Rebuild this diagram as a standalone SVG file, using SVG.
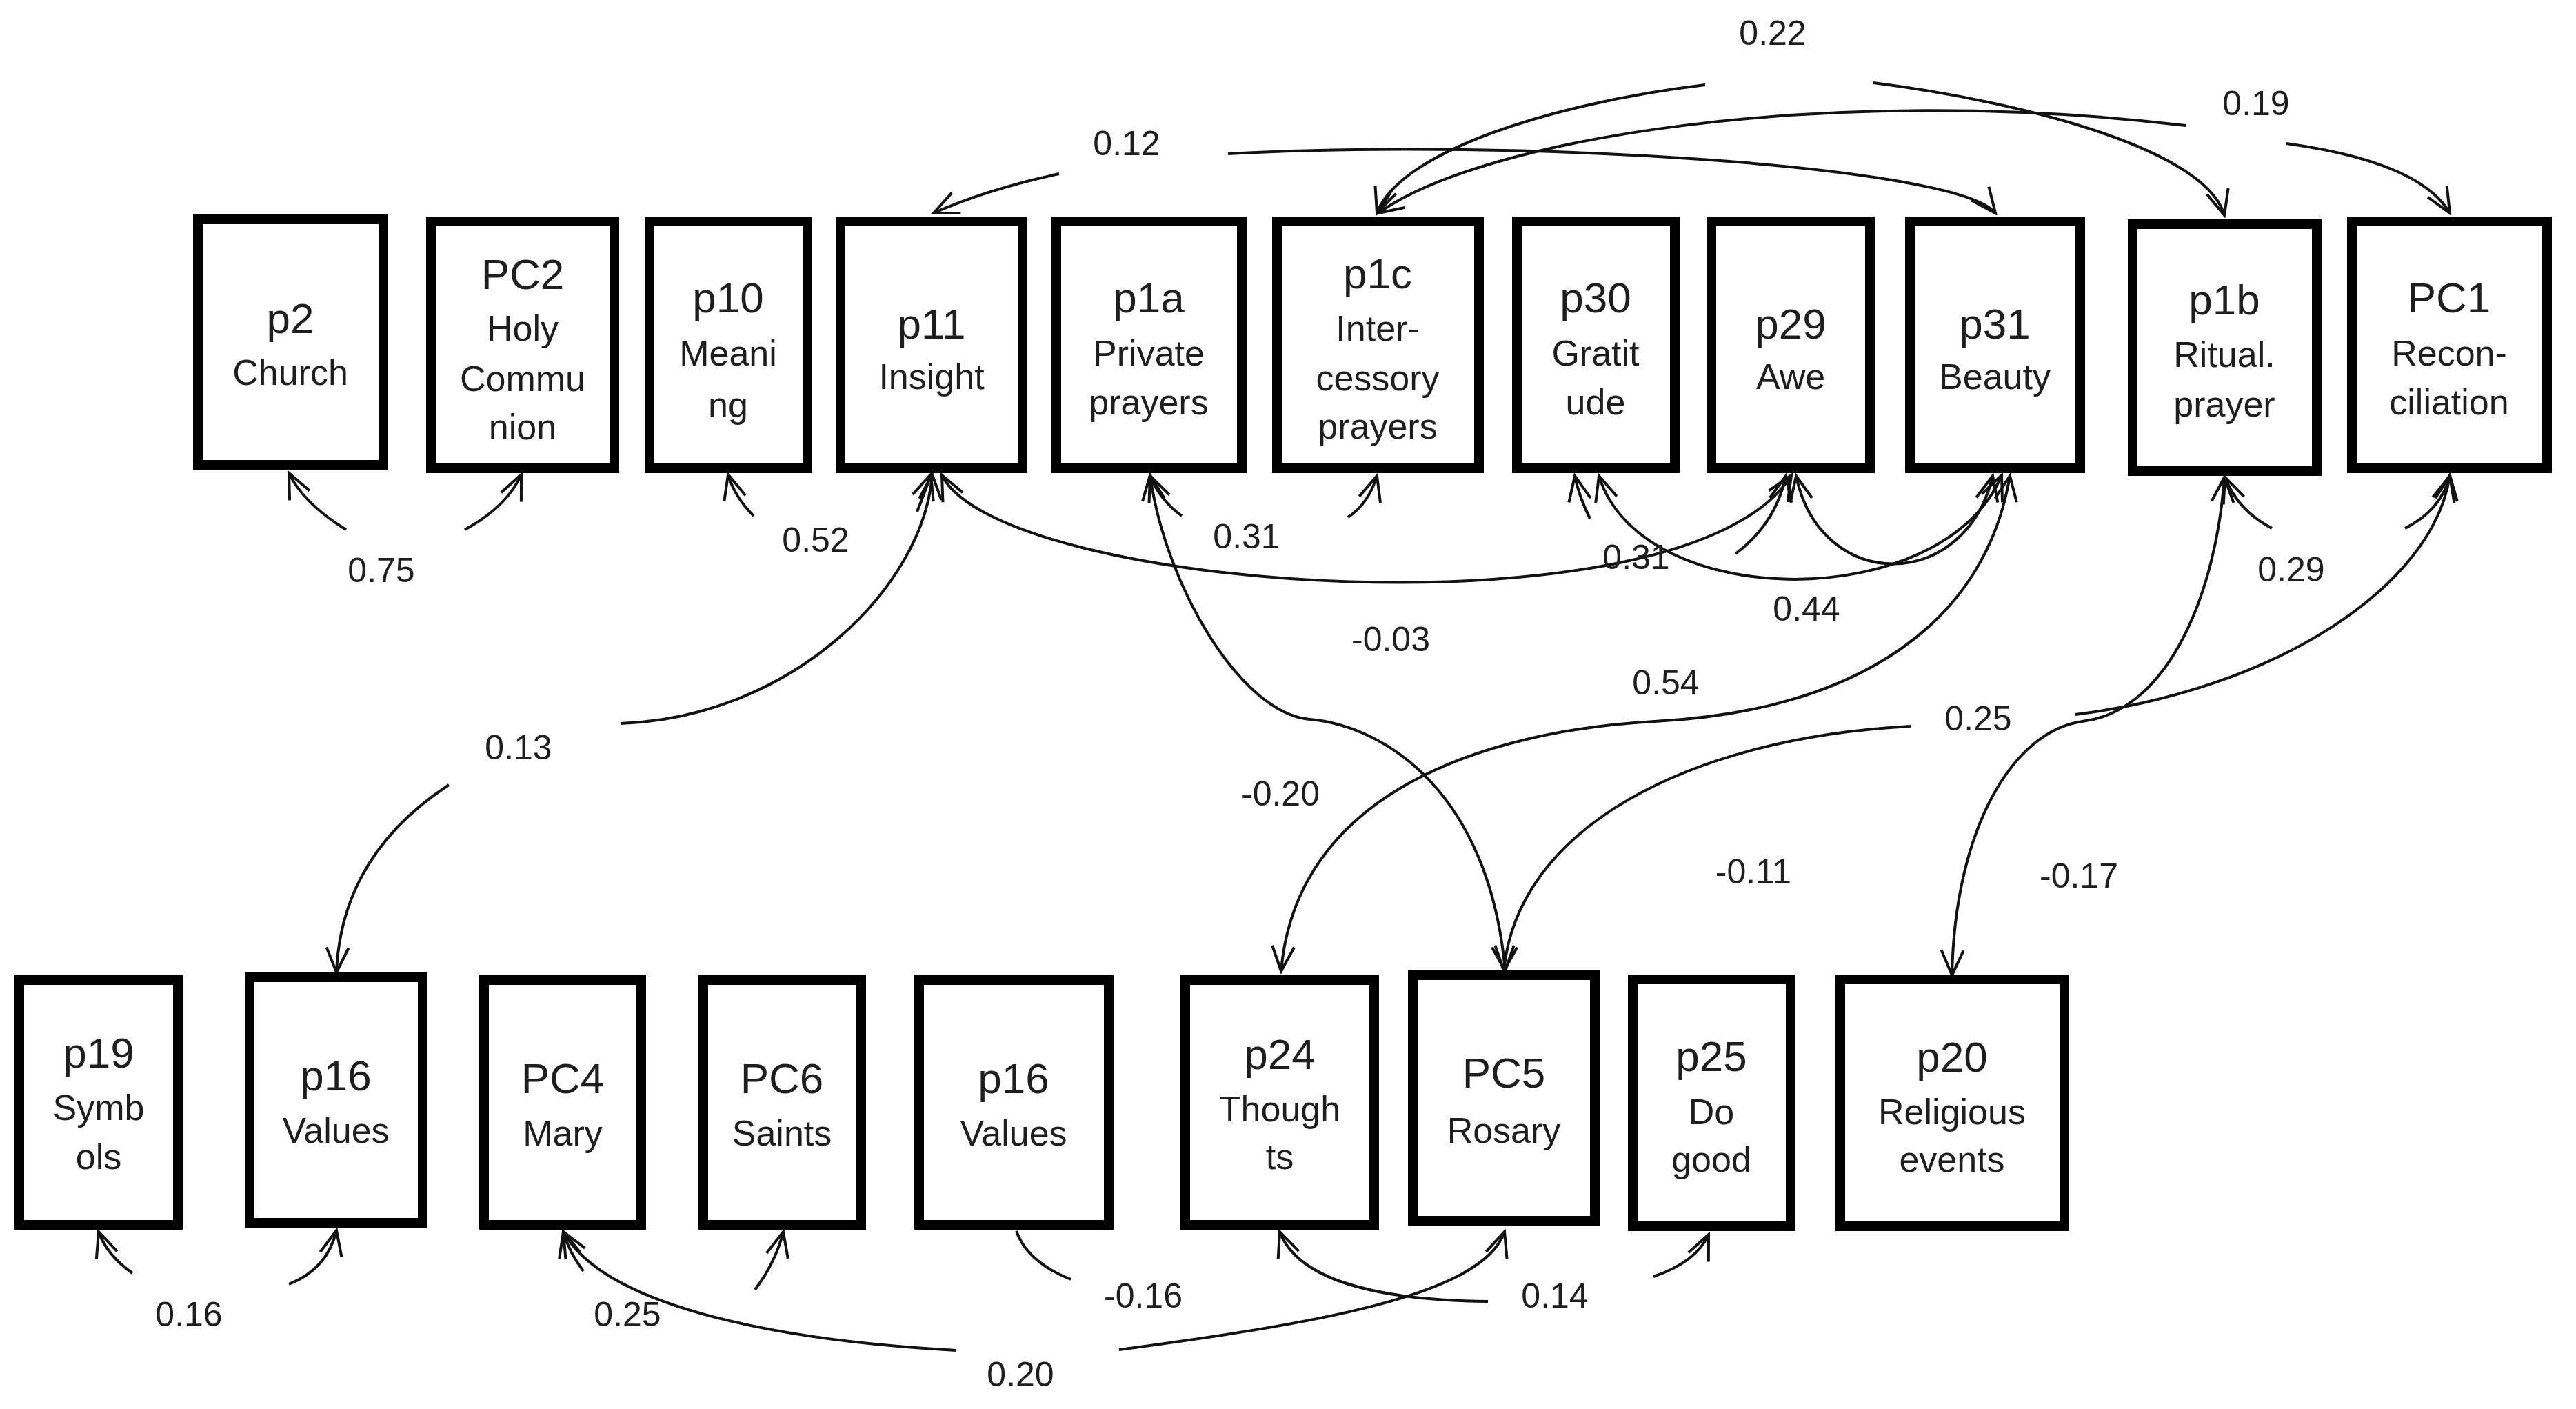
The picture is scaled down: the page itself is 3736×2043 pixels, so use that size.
<svg xmlns="http://www.w3.org/2000/svg" width="3736" height="2043" viewBox="0 0 3736 2043">
<defs>
<style>
.box{fill:#fff;stroke:#000;stroke-width:14}
.t{font-family:"Liberation Sans",Arial,sans-serif;font-size:62px;fill:#1e1e1e;text-anchor:middle}
.s{font-family:"Liberation Sans",Arial,sans-serif;font-size:52px;fill:#1e1e1e;text-anchor:middle}
.n{font-family:"Liberation Sans",Arial,sans-serif;font-size:50px;fill:#1e1e1e;text-anchor:middle}
.c{fill:none;stroke:#111;stroke-width:4}
.a2{marker-start:url(#ah);marker-end:url(#ah)}
.ae{marker-end:url(#ah)}
</style>
<marker id="ah" viewBox="-44 -22 48 44" refX="0" refY="0" markerWidth="48" markerHeight="44" markerUnits="userSpaceOnUse" orient="auto-start-reverse">
<path d="M-36,-16 L0,0 L-36,16" fill="none" stroke="#111" stroke-width="4"/>
</marker>
</defs>
<rect width="3736" height="2043" fill="#fff"/>

<g id="connectors">
<!-- top arcs -->
<path class="c ae" d="M1536,252 Q1430,275 1354,309"/>
<path class="c ae" d="M1781,223 C2200,200 2840,240 2894,309"/>
<path class="c ae" d="M2473,123 C2250,150 2030,220 1997,309"/>
<path class="c ae" d="M2717,120 C2950,150 3200,220 3226,312"/>
<path class="c" d="M1999,309 C2150,200 2650,120 3170,182" marker-start="url(#ah)"/>
<path class="c ae" d="M3316,208 Q3510,235 3553,309"/>
<!-- top-row bottom stubs -->
<path class="c ae" d="M502,768 Q440,730 419,686"/>
<path class="c ae" d="M674,768 Q735,735 756,688"/>
<path class="c ae" d="M1093,748 Q1065,720 1056,688"/>
<path class="c ae" d="M1330,742 Q1342,712 1350,688"/>
<path class="c ae" d="M1714,748 Q1682,725 1668,690"/>
<path class="c ae" d="M1955,750 Q1985,730 1997,690"/>
<path class="c ae" d="M2306,752 Q2290,720 2284,690"/>
<path class="c ae" d="M2517,803 Q2575,760 2590,690"/>
<path class="c ae" d="M3295,766 Q3245,740 3227,692"/>
<path class="c ae" d="M3488,766 Q3540,740 3553,690"/>
<!-- top-row long arcs -->
<path class="c a2" d="M1366,689 C1450,860 2450,930 2598,689"/>
<path class="c a2" d="M2319,690 C2380,890 2820,890 2903,689"/>
<path class="c a2" d="M2605,690 C2640,860 2850,860 2890,690"/>
<path class="c a2" d="M1668,689 C1690,850 1800,1035 1900,1043 C2010,1053 2160,1150 2183,1408"/>
<path class="c a2" d="M2915,690 C2880,900 2700,1030 2400,1046 C2150,1060 1880,1150 1858,1408"/>
<path class="c" d="M3553,689 C3530,850 3300,1000 3010,1036" marker-start="url(#ah)"/>
<path class="c ae" d="M2771,1053 C2450,1070 2200,1200 2181,1408"/>
<path class="c a2" d="M3226,692 C3215,850 3150,1030 3020,1046 C2920,1060 2835,1200 2831,1414"/>
<path class="c" d="M1352,688 C1340,850 1150,1040 900,1049" marker-start="url(#ah)"/>
<path class="c ae" d="M651,1138 Q495,1240 488,1410"/>
<!-- bottom-row stubs -->
<path class="c ae" d="M192,1846 Q155,1820 143,1786"/>
<path class="c ae" d="M419,1862 Q475,1840 488,1784"/>
<path class="c ae" d="M846,1843 Q825,1815 817,1786"/>
<path class="c ae" d="M1095,1870 Q1125,1830 1136,1786"/>
<path class="c" d="M1474,1785 Q1490,1830 1553,1855"/>
<path class="c ae" d="M2398,1851 Q2460,1830 2478,1790"/>
<!-- bottom-row arcs -->
<path class="c" d="M817,1786 C880,1900 1150,1945 1387,1958" marker-start="url(#ah)"/>
<path class="c ae" d="M1623,1957 C1900,1920 2150,1880 2182,1786"/>
<path class="c" d="M1856,1786 C1880,1850 1980,1885 2158,1887" marker-start="url(#ah)"/>
</g>

<g id="labels">
<text class="n" x="2571" y="65">0.22</text>
<text class="n" x="3272" y="167">0.19</text>
<text class="n" x="1634" y="225">0.12</text>
<text class="n" x="553" y="844">0.75</text>
<text class="n" x="1183" y="800">0.52</text>
<text class="n" x="1808" y="795">0.31</text>
<text class="n" x="2373" y="825">0.31</text>
<text class="n" x="2620" y="900">0.44</text>
<text class="n" x="3323" y="843">0.29</text>
<text class="n" x="2017" y="944">-0.03</text>
<text class="n" x="2416" y="1007">0.54</text>
<text class="n" x="2869" y="1059">0.25</text>
<text class="n" x="752" y="1101">0.13</text>
<text class="n" x="1857" y="1168">-0.20</text>
<text class="n" x="2543" y="1281">-0.11</text>
<text class="n" x="3015" y="1287">-0.17</text>
<text class="n" x="274" y="1923">0.16</text>
<text class="n" x="910" y="1923">0.25</text>
<text class="n" x="1658" y="1896">-0.16</text>
<text class="n" x="2255" y="1896">0.14</text>
<text class="n" x="1480" y="2010">0.20</text>
</g>

<g id="n-p2"><rect class="box" x="287" y="318" width="269" height="356"/><text class="t" x="421" y="483">p2</text><text class="s" x="421" y="558">Church</text></g>
<g id="n-PC2"><rect class="box" x="625" y="321" width="266" height="358"/><text class="t" x="758" y="419">PC2</text><text class="s" x="758" y="494">Holy</text><text class="s" x="758" y="567">Commu</text><text class="s" x="758" y="637">nion</text></g>
<g id="n-p10"><rect class="box" x="942" y="321" width="229" height="358"/><text class="t" x="1056" y="453">p10</text><text class="s" x="1056" y="530">Meani</text><text class="s" x="1056" y="605">ng</text></g>
<g id="n-p11"><rect class="box" x="1219" y="321" width="264" height="358"/><text class="t" x="1351" y="491">p11</text><text class="s" x="1351" y="564">Insight</text></g>
<g id="n-p1a"><rect class="box" x="1532" y="321" width="269" height="358"/><text class="t" x="1666" y="453">p1a</text><text class="s" x="1666" y="530">Private</text><text class="s" x="1666" y="601">prayers</text></g>
<g id="n-p1c"><rect class="box" x="1852" y="321" width="293" height="358"/><text class="t" x="1998" y="418">p1c</text><text class="s" x="1998" y="494">Inter-</text><text class="s" x="1998" y="566">cessory</text><text class="s" x="1998" y="636">prayers</text></g>
<g id="n-p30"><rect class="box" x="2200" y="321" width="229" height="358"/><text class="t" x="2314" y="453">p30</text><text class="s" x="2314" y="530">Gratit</text><text class="s" x="2314" y="601">ude</text></g>
<g id="n-p29"><rect class="box" x="2482" y="321" width="230" height="358"/><text class="t" x="2597" y="491">p29</text><text class="s" x="2597" y="564">Awe</text></g>
<g id="n-p31"><rect class="box" x="2770" y="321" width="247" height="358"/><text class="t" x="2893" y="491">p31</text><text class="s" x="2893" y="564">Beauty</text></g>
<g id="n-p1b"><rect class="box" x="3093" y="325" width="267" height="358"/><text class="t" x="3226" y="456">p1b</text><text class="s" x="3226" y="532">Ritual.</text><text class="s" x="3226" y="604">prayer</text></g>
<g id="n-PC1"><rect class="box" x="3411" y="321" width="283" height="358"/><text class="t" x="3552" y="453">PC1</text><text class="s" x="3552" y="530">Recon-</text><text class="s" x="3552" y="601">ciliation</text></g>

<g id="n-p19"><rect class="box" x="28" y="1421" width="230" height="355"/><text class="t" x="143" y="1548">p19</text><text class="s" x="143" y="1624">Symb</text><text class="s" x="143" y="1695">ols</text></g>
<g id="n-p16"><rect class="box" x="362" y="1417" width="251" height="356"/><text class="t" x="487" y="1581">p16</text><text class="s" x="487" y="1657">Values</text></g>
<g id="n-PC4"><rect class="box" x="702" y="1421" width="228" height="355"/><text class="t" x="816" y="1585">PC4</text><text class="s" x="816" y="1661">Mary</text></g>
<g id="n-PC6"><rect class="box" x="1020" y="1421" width="229" height="355"/><text class="t" x="1134" y="1585">PC6</text><text class="s" x="1134" y="1661">Saints</text></g>
<g id="n-p16b"><rect class="box" x="1333" y="1421" width="275" height="355"/><text class="t" x="1470" y="1585">p16</text><text class="s" x="1470" y="1661">Values</text></g>
<g id="n-p24"><rect class="box" x="1719" y="1421" width="274" height="355"/><text class="t" x="1856" y="1550">p24</text><text class="s" x="1856" y="1626">Though</text><text class="s" x="1856" y="1695">ts</text></g>
<g id="n-PC5"><rect class="box" x="2049" y="1414" width="264" height="356"/><text class="t" x="2181" y="1577">PC5</text><text class="s" x="2181" y="1657">Rosary</text></g>
<g id="n-p25"><rect class="box" x="2368" y="1420" width="229" height="358"/><text class="t" x="2482" y="1553">p25</text><text class="s" x="2482" y="1630">Do</text><text class="s" x="2482" y="1699">good</text></g>
<g id="n-p20"><rect class="box" x="2669" y="1420" width="325" height="358"/><text class="t" x="2831" y="1554">p20</text><text class="s" x="2831" y="1630">Religious</text><text class="s" x="2831" y="1699">events</text></g>
</svg>
